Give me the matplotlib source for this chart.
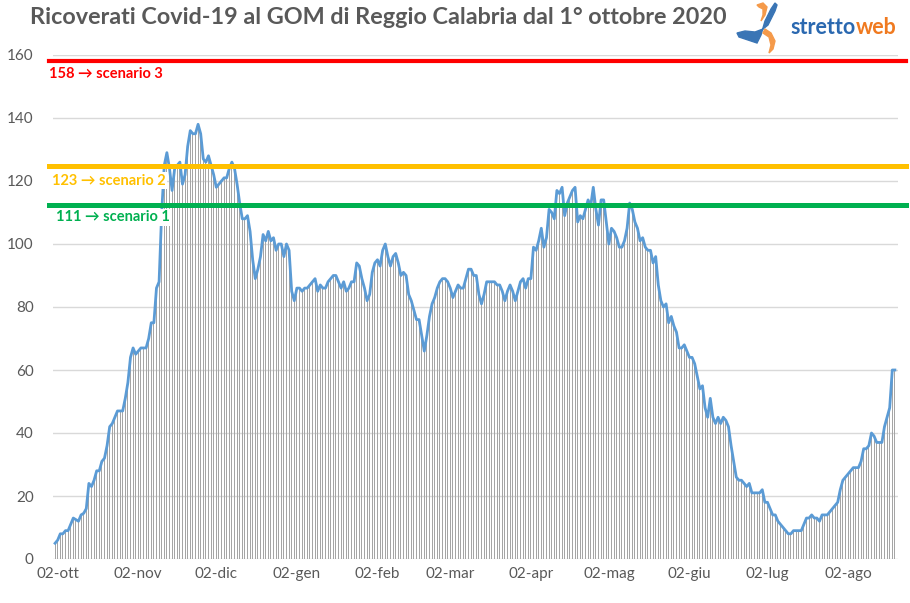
import matplotlib
matplotlib.use("Agg")
import matplotlib.pyplot as plt
import numpy as np
import pandas as pd
from matplotlib.patches import Polygon

plt.rcParams['font.family'] = ['Lato', 'DejaVu Sans']

# --- data (daily hospitalised, from 1 Oct 2020) ---
oct20 = [5, 6, 8, 8, 9, 9, 11, 13, 12.5, 12, 14, 14.5, 16, 24, 23, 25, 28, 28, 31, 32,
         36, 42, 43, 45, 47, 47, 47, 51, 56, 64, 67]
nov20 = [65, 66, 67, 67, 67, 70, 75, 75, 86, 88, 110, 125, 129, 124, 117, 124, 125, 126,
         119, 122, 131, 136, 135, 135, 138, 135, 127, 126, 128, 125]
dec20 = [122, 118, 119, 120, 121, 121, 124, 126, 124, 119, 113, 108, 108, 109, 104, 95, 89,
         92, 96, 103, 101, 104, 101, 102, 98, 100, 100, 96, 100, 98, 85]
jan21 = [82, 86, 86, 85, 86, 86, 87, 88, 89, 85, 87, 86, 86, 88, 89, 90, 90, 88, 86, 88,
         85, 86, 88, 88, 94, 93, 89, 86, 82, 84, 91]
feb21 = [94, 95, 93, 98, 100, 96, 93, 96, 97, 94, 90, 91, 90, 84, 82, 79, 76, 76, 71, 66,
         71, 77, 81, 83, 86, 88, 89, 89]
mar21 = [88, 86, 83, 85, 87, 86, 86, 89, 92, 92, 90, 90, 84, 81, 84, 88, 88, 88, 88, 87,
         87, 85, 82, 85, 87, 85, 82, 85, 88, 89, 86]
apr21 = [89, 89, 99, 98, 101, 105, 99, 102, 111, 110, 108, 117, 116, 118, 109, 113, 115,
         117, 118, 107, 109, 108, 111, 114, 112, 118, 111, 106, 114, 114]
may21 = [107, 100, 105, 104, 102, 99, 99, 101, 105, 113, 111, 107, 105, 101, 102, 99, 98,
         98, 94, 96, 87, 82, 80, 81, 75, 77, 74, 72, 67, 67, 68]
jun21 = [66, 64, 64, 62, 58, 54, 55, 48, 45, 51, 45, 43, 45, 43, 45, 44, 42, 36, 31, 26,
         25, 25, 24, 23, 24, 21, 21, 21, 21, 22]
jul21 = [18, 18, 16, 14, 14, 12, 11, 10, 9, 8, 8, 9, 9, 9, 9, 11, 13, 13, 14, 13, 13, 12,
         14, 14, 14, 15, 16, 17, 18, 22, 25]
aug21 = [26, 27, 28, 29, 29, 29, 31, 35, 35, 36, 40, 39, 37, 37, 37, 42, 45, 48, 60, 60]

start_date = "2020-10-01"
month_names = ["gen", "feb", "mar", "apr", "mag", "giu", "lug", "ago", "set", "ott", "nov", "dic"]

# scenario thresholds (as drawn) and their labels
scenario_levels = [158, 124.7, 112.3]
scenario_labels = ["158 \u2192 scenario 3", "123 \u2192 scenario 2", "111 \u2192 scenario 1"]
scenario_colors = ["#ff0000", "#ffc000", "#00b050"]

title = "Ricoverati Covid-19 al GOM di Reggio Calabria dal 1° ottobre 2020"
logo_parts = ["stretto", "web"]
logo_colors = ["#2a68b0", "#f07a20"]

values = np.array(oct20 + nov20 + dec20 + jan21 + feb21 + mar21 + apr21 + may21 + jun21 + jul21 + aug21)
dates = pd.date_range(start_date, periods=len(values), freq="D")
days = np.arange(len(values))

fig = plt.figure(figsize=(9.10, 6.03), dpi=100)
ax = fig.add_axes([53 / 910, 44 / 603, 845 / 910, 504 / 603])

ax.bar(days, values, width=0.42, color="#a5a5a5", zorder=2)
ax.plot(days, values, color="#5b9bd5", lw=2.0, zorder=3, solid_joinstyle="round")

ax.set_ylim(0, 160)
ax.set_xlim(-0.8, 324.2)
ax.set_yticks(np.arange(0, 161, 20))
ax.yaxis.grid(True, color="#d9d9d9", lw=1.0, zorder=0)
ax.set_axisbelow(True)
for s in ax.spines.values():
    s.set_visible(False)
ax.tick_params(axis="both", length=0, labelsize=11, labelcolor="#595959")
ax.tick_params(axis="y", pad=14)
ax.tick_params(axis="x", pad=6)

# month ticks at the 2nd of each month
tick_idx = [i for i, d in enumerate(dates) if d.day == 2]
ax.set_xticks(tick_idx)
ax.set_xticklabels([f"02-{month_names[dates[i].month - 1]}" for i in tick_idx])

# scenario lines and labels
label_offsets = [(-3, -4), (-1, -5.5), (2, -3.5)]
for lvl, lab, col, off in zip(scenario_levels, scenario_labels, scenario_colors, label_offsets):
    ax.axhline(lvl, xmin=-0.005, xmax=1.01, color=col, lw=3.0 if col == "#ff0000" else 3.6,
               zorder=4, clip_on=False)
    ax.annotate(lab, xy=(0, lvl), xycoords=("axes fraction", "data"),
                xytext=off, textcoords="offset points", ha="left", va="top",
                color=col, fontsize=10.5, fontweight="bold", zorder=5,
                bbox=dict(boxstyle="square,pad=0.1", fc="white", ec="none"))

fig.text(30 / 910, 1 - 17 / 603, title, ha="left", va="center", fontsize=16.8,
         fontweight="bold", color="#595959")

# logo
lax = fig.add_axes([735 / 910, 1 - 55 / 603, 60 / 910, 55 / 603])
lax.set_xlim(0, 60)
lax.set_ylim(0, 55)
lax.axis("off")
lax.add_patch(Polygon([[2, 22], [10, 24], [20, 23], [28, 26], [33, 30], [36, 36], [40, 44],
                       [42, 50], [40, 52], [36, 46], [33, 40], [30, 34], [26, 20], [22, 12],
                       [16, 14], [10, 16], [4, 18]], closed=True, color="#3a75b5"))
lax.add_patch(Polygon([[22, 50], [28, 52], [32, 48], [30, 40], [26, 34], [28, 40], [28, 46],
                       [24, 48]], closed=True, color="#f59a4a"))
lax.add_patch(Polygon([[30, 26], [36, 22], [40, 14], [38, 6], [34, 2], [36, 10], [34, 18],
                       [28, 22]], closed=True, color="#f59a4a"))

renderer = fig.canvas.get_renderer()
x_px = 790
for part, col in zip(logo_parts, logo_colors):
    t = fig.text(x_px / 910, 1 - 28 / 603, part, ha="left", va="center", fontsize=15.5,
                 fontweight="bold", color=col)
    bb = t.get_window_extent(renderer=renderer)
    x_px = bb.x1 + 0.5

fig.savefig("out.png", dpi=100)
